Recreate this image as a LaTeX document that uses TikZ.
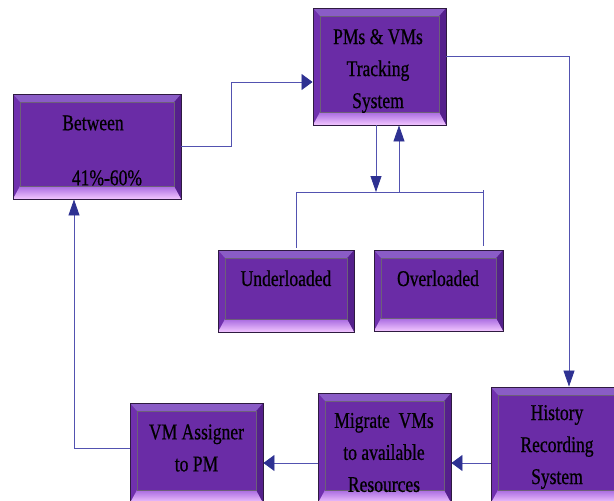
\documentclass[tikz,border=0pt]{standalone}
\usepackage{fontspec}
\setmainfont{Liberation Serif}[FakeStretch=0.78,FakeBold=0.6]
\usetikzlibrary{arrows.meta,calc}
\definecolor{boxmain}{HTML}{6A2CA6}
\definecolor{boxtop}{HTML}{8A5CC6}
\definecolor{boxleft}{HTML}{7030AE}
\definecolor{boxright}{HTML}{55208C}
\definecolor{boxedge}{HTML}{2E1A40}
\definecolor{bandtop}{HTML}{A86AE0}
\definecolor{bandbot}{HTML}{F2C6FF}
\definecolor{linec}{HTML}{5252B0}
\definecolor{tipc}{HTML}{2E3192}
\tikzset{
  bevelbox/.style={rectangle, draw=boxedge, line width=0.9pt, fill=boxmain, inner sep=0pt,
    path picture={
      \coordinate (bnw) at (path picture bounding box.north west);
      \coordinate (bne) at (path picture bounding box.north east);
      \coordinate (bsw) at (path picture bounding box.south west);
      \coordinate (bse) at (path picture bounding box.south east);
      \fill[boxleft] (bnw) -- ([xshift=7pt,yshift=-8pt]bnw) -- ([xshift=7pt,yshift=13pt]bsw) -- (bsw) -- cycle;
      \fill[boxright] (bne) -- ([xshift=-7pt,yshift=-8pt]bne) -- ([xshift=-7pt,yshift=13pt]bse) -- (bse) -- cycle;
      \fill[boxtop] (bnw) -- (bne) -- ([xshift=-7pt,yshift=-8pt]bne) -- ([xshift=7pt,yshift=-8pt]bnw) -- cycle;
      \shade[top color=bandtop, bottom color=bandbot] (bsw) -- (bse) -- ([xshift=-7pt,yshift=13pt]bse) -- ([xshift=7pt,yshift=13pt]bsw) -- cycle;
      \draw[boxedge!70, line width=0.4pt] ([xshift=7pt,yshift=-8pt]bnw) rectangle ([xshift=-7pt,yshift=13pt]bse);
    }},
  txt/.style={align=center, font=\fontsize{22.5}{32}\selectfont, inner sep=0pt, text=black},
  conn/.style={draw=linec, line width=0.8pt},
  harr/.style={conn, -{Triangle[length=11pt,width=16pt,color=tipc]}},
  varr/.style={conn, -{Triangle[length=16pt,width=11pt,color=tipc]}}
}
\begin{document}
\begin{tikzpicture}[x=1pt,y=-1pt]
\useasboundingbox (0,0) rectangle (614,501);
\fill[white] (0,0) rectangle (614,501);
\clip (0,0) rectangle (614,501);

% boxes
\node[bevelbox, minimum width=133pt, minimum height=117pt] (pms) at (379.5,66.5) {};
\node[bevelbox, minimum width=168pt, minimum height=105pt] (between) at (97,146.5) {};
\node[bevelbox, minimum width=136pt, minimum height=82pt] (under) at (286,291) {};
\node[bevelbox, minimum width=129pt, minimum height=81pt] (over) at (438.5,290.5) {};
\node[bevelbox, minimum width=132pt, minimum height=116pt] (history) at (557,445) {};
\node[bevelbox, minimum width=133pt, minimum height=110pt] (migrate) at (384.5,448) {};
\node[bevelbox, minimum width=133pt, minimum height=100pt] (vmassign) at (196.5,453) {};

% texts
\node[txt] (tpms) at (378,71) {PMs \& VMs\\Tracking\\System};
\node[txt] (tbetween) at (93,150.5) {Between\\[23pt]\hspace*{28pt}41\%-60\%};
\node[txt] (tunder) at (286,278.3) {Underloaded};
\node[txt] (tover) at (438,278.3) {Overloaded};
\node[txt] (thistory) at (557,447) {History\\Recording\\System};
\node[txt] (tmigrate) at (384,452.5) {Migrate~~VMs\\to available\\Resources};
\node[txt] (tvmassign) at (196.5,448) {VM Assigner\\to PM};

% connectors
\coordinate (busL) at (296,192);
\coordinate (busR) at (483,192);
\draw[harr] (between.east) -- ++(50,0) |- ([yshift=-15.5pt]pms.west);
\draw[varr] ([yshift=10.5pt]pms.east) -| ([xshift=12pt]history.north);
\draw[varr] ([xshift=-3.5pt]pms.south) -- ([xshift=-3.5pt]pms.south |- busL);
\draw[varr] ([xshift=19.5pt]pms.south |- busL) -- ([xshift=19.5pt]pms.south);
\draw[conn] ([xshift=10pt,yshift=2pt]under.north) |- (busR) -- ([xshift=44.5pt,yshift=4pt]over.north);
\draw[conn] (busR) -- ++(0,-2);
\draw[harr] ([yshift=-18pt]history.west) -- ([yshift=-18pt]history.west -| migrate.east);
\draw[harr] ([yshift=-15pt]migrate.west) -- ([yshift=-15pt]migrate.west -| vmassign.east);
\draw[varr] ([yshift=5pt]vmassign.west) -| ([xshift=-23pt]between.south);
\end{tikzpicture}
\end{document}
